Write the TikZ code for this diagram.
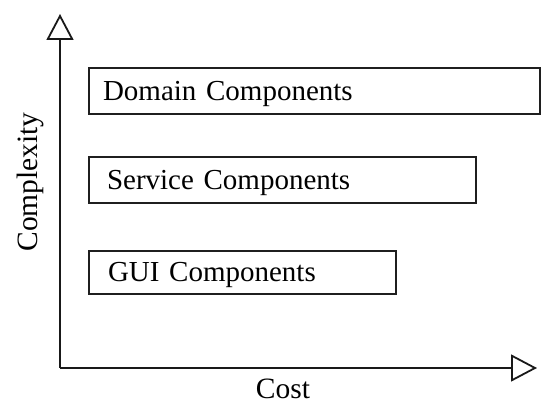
\documentclass[tikz,border=0pt]{standalone}
\usepackage{fontspec}
\setmainfont{Liberation Serif}
\usetikzlibrary{arrows.meta}
\begin{document}
\begin{tikzpicture}[x=1pt,y=-1pt,
  comp/.style={draw=black!88, line width=2pt, anchor=north west, align=left,
    text height=19pt, text depth=0pt, inner ysep=0pt,
    font=\fontsize{29}{30}\selectfont},
  axis/.style={draw=black!90, line width=2.4pt,
    -{Triangle[open, length=26pt, width=27pt, line width=1.8pt]}},
  lbl/.style={font=\fontsize{29.5}{30}\selectfont, inner sep=0pt}]
\useasboundingbox (0,0) rectangle (541,403);
\coordinate (origin) at (60,368);
\coordinate (ytop) at (60,14);
\coordinate (xend) at (537,368);
\draw[axis] (origin) -- (ytop);
\draw[axis] (origin) -- (xend);
\node[comp, minimum width=451pt, minimum height=46pt, inner xsep=14pt, text width=423pt] (domain) at (88,67) {Domain Components};
\node[comp, minimum width=387pt, minimum height=46pt, inner xsep=18pt, text width=351pt] (service) at (88,156) {Service Components};
\node[comp, minimum width=307pt, minimum height=43pt, inner xsep=19pt, text width=269pt] (gui) at (88,250) {GUI Components};
\node[lbl, rotate=90, anchor=base] (complexity) at (37,182) {Complexity};
\node[lbl, anchor=base] (cost) at (283,398) {Cost};
\end{tikzpicture}
\end{document}
